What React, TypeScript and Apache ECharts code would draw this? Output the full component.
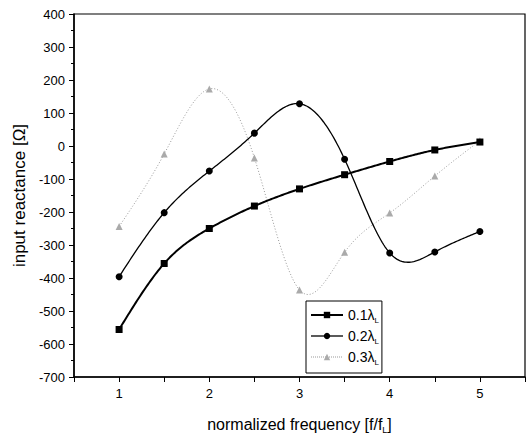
import React, { useEffect, useRef } from "react";
import * as echarts from "echarts";

const freq = [1, 1.5, 2, 2.5, 3, 3.5, 4, 4.5, 5];
const s01 = [-556, -356, -250, -182, -130, -87, -47, -12, 12];
const s02 = [-396, -202, -76, 39, 128, -40, -324, -321, -259];
const s03 = [-244, -24, 173, -36, -436, -322, -203, -91, 16];
const seriesNames = ["0.1λL", "0.2λL", "0.3λL"];
const legendLabels = ["0.1λ", "0.2λ", "0.3λ"];

// natural cubic spline through (xs, ys), sampled in data space
function splineSamples(xs: number[], ys: number[], perSeg: number): number[][] {
  const n = xs.length;
  const h: number[] = [];
  for (let i = 0; i < n - 1; i++) h.push(xs[i + 1] - xs[i]);
  const a = new Array(n).fill(0);
  const b = new Array(n).fill(0);
  const c = new Array(n).fill(0);
  const d = new Array(n).fill(0);
  b[0] = 1;
  b[n - 1] = 1;
  for (let i = 1; i < n - 1; i++) {
    a[i] = h[i - 1];
    b[i] = 2 * (h[i - 1] + h[i]);
    c[i] = h[i];
    d[i] = 6 * ((ys[i + 1] - ys[i]) / h[i] - (ys[i] - ys[i - 1]) / h[i - 1]);
  }
  const cp = new Array(n).fill(0);
  const dp = new Array(n).fill(0);
  cp[0] = c[0] / b[0];
  dp[0] = d[0] / b[0];
  for (let i = 1; i < n; i++) {
    const m = b[i] - a[i] * cp[i - 1];
    cp[i] = c[i] / m;
    dp[i] = (d[i] - a[i] * dp[i - 1]) / m;
  }
  const M = new Array(n).fill(0);
  M[n - 1] = dp[n - 1];
  for (let i = n - 2; i >= 0; i--) M[i] = dp[i] - cp[i] * M[i + 1];
  const out: number[][] = [];
  for (let i = 0; i < n - 1; i++) {
    for (let k = 0; k < perSeg; k++) {
      const t = k / perSeg;
      const x = xs[i] + t * h[i];
      const A = 1 - t;
      const B = t;
      const y =
        A * ys[i] +
        B * ys[i + 1] +
        ((A * A * A - A) * M[i] + (B * B * B - B) * M[i + 1]) * (h[i] * h[i]) / 6;
      out.push([x, y]);
    }
  }
  out.push([xs[n - 1], ys[n - 1]]);
  return out;
}

export default function App() {
  const ref = useRef<HTMLDivElement>(null);
  useEffect(() => {
    if (!ref.current) return;
    const chart = echarts.init(ref.current, undefined, { renderer: "svg" });
    const font = "Liberation Sans, Arial, sans-serif";
    const pair = (ys: number[]) => freq.map((x, i) => [x, ys[i]]);
    const curve = (ys: number[], stroke: string, width: number, dash: any) => ({
      type: "custom",
      name: "curve",
      silent: true,
      clip: true,
      data: [[freq[0], ys[0]]],
      renderItem: (params: any, api: any) => {
        const pts = splineSamples(freq, ys, 30).map((p) => api.coord(p));
        return {
          type: "polyline",
          shape: { points: pts },
          style: { stroke, lineWidth: width, fill: null, lineDash: dash },
        };
      },
      z: 1,
    });
    const lineStyles = [
      { color: "#000", width: 2, type: "solid" },
      { color: "#000", width: 1.3, type: "solid" },
      { color: "#999", width: 1, type: "dotted" },
    ];
    chart.setOption({
      animation: false,
      backgroundColor: "#fff",
      textStyle: { fontFamily: font, color: "#000" },
      grid: { left: 74, right: 5, top: 14, bottom: 60, show: true, borderColor: "#000", borderWidth: 1.2 },
      legend: {
        orient: "vertical",
        left: 306,
        top: 301,
        padding: [7, 3, 7, 4],
        itemGap: 5,
        itemWidth: 32,
        itemHeight: 8,
        borderColor: "#000",
        borderWidth: 1,
        backgroundColor: "#fff",
        data: seriesNames.map((n, i) => ({
          name: n,
          lineStyle: { ...lineStyles[i], opacity: 1 },
        })),
        formatter: (name: string) => {
          const i = seriesNames.indexOf(name);
          return `{m|${legendLabels[i]}}{s|L}`;
        },
        textStyle: {
          fontFamily: font,
          fontSize: 14,
          color: "#000",
          rich: {
            m: { fontSize: 14, fontFamily: font, color: "#000" },
            s: { fontSize: 8, fontFamily: font, color: "#000", padding: [10, 0, 0, 0] },
          },
        },
      },
      xAxis: {
        type: "value",
        min: 0.5,
        max: 5.5,
        interval: 0.5,
        name: "{m|normalized frequency [f/f}{s|L}{m|]}",
        nameLocation: "middle",
        nameGap: 38,
        nameTextStyle: {
          fontFamily: font,
          fontSize: 16,
          color: "#000",
          rich: {
            m: { fontSize: 16, fontFamily: font, color: "#000" },
            s: { fontSize: 9, fontFamily: font, color: "#000", padding: [10, 0, 0, 0] },
          },
        },
        axisLine: { show: true, onZero: false, lineStyle: { color: "#000", width: 1.5 } },
        axisTick: { show: true, inside: false, length: 5, lineStyle: { color: "#000" } },
        axisLabel: {
          fontSize: 13,
          color: "#000",
          margin: 10,
          formatter: (v: number) => (Number.isInteger(v) && v >= 1 && v <= 5 ? String(v) : ""),
        },
        splitLine: { show: false },
      },
      yAxis: {
        type: "value",
        min: -700,
        max: 400,
        interval: 100,
        name: "input reactance [Ω]",
        nameLocation: "middle",
        nameGap: 46,
        nameTextStyle: { fontFamily: font, fontSize: 17, color: "#000" },
        axisLine: { show: true, onZero: false, lineStyle: { color: "#000", width: 1.5 } },
        axisTick: { show: true, inside: false, length: 5, lineStyle: { color: "#000" } },
        minorTick: { show: true, splitNumber: 2, length: 3, lineStyle: { color: "#000" } },
        axisLabel: { fontSize: 13, color: "#000", margin: 9 },
        splitLine: { show: false },
      },
      series: [
        curve(s03, "#999", 1, [1, 2]),
        curve(s02, "#000", 1.3, null),
        curve(s01, "#000", 2, null),
        {
          name: seriesNames[0],
          type: "line",
          data: pair(s01),
          symbol: "rect",
          symbolSize: 7,
          itemStyle: { color: "#000" },
          lineStyle: { ...lineStyles[0], opacity: 0 },
          z: 5,
        },
        {
          name: seriesNames[1],
          type: "line",
          data: pair(s02),
          symbol: "circle",
          symbolSize: 7,
          itemStyle: { color: "#000" },
          lineStyle: { ...lineStyles[1], opacity: 0 },
          z: 4,
        },
        {
          name: seriesNames[2],
          type: "line",
          data: pair(s03),
          symbol: "triangle",
          symbolSize: 7,
          itemStyle: { color: "#aaa" },
          lineStyle: { ...lineStyles[2], opacity: 0 },
          z: 3,
        },
      ],
    });
    return () => chart.dispose();
  }, []);
  return <div ref={ref} style={{ position: "absolute", left: 0, top: 0, width: 530, height: 439 }} />;
}
